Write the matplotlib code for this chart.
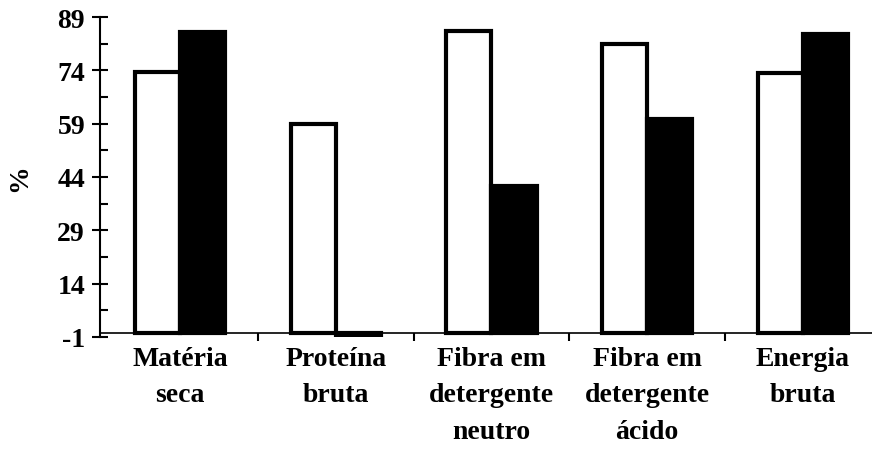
import matplotlib
matplotlib.use("Agg")
import matplotlib.pyplot as plt
import numpy as np

categories = ["Matéria\nseca", "Proteína\nbruta", "Fibra em\ndetergente\nneutro",
              "Fibra em\ndetergente\nácido", "Energia\nbruta"]
white_vals = [73.6, 58.8, 85.0, 81.4, 73.2]
black_vals = [84.7, -0.8, 41.5, 60.2, 84.2]
y_ticks = [-1, 14, 29, 44, 59, 74, 89]

plt.rcParams['font.family'] = ['Liberation Serif', 'DejaVu Serif']
plt.rcParams['font.weight'] = 'bold'
plt.rcParams['axes.labelweight'] = 'bold'
plt.rcParams['axes.unicode_minus'] = False

fig = plt.figure(figsize=(8.72, 4.56), dpi=100)
ax = fig.add_axes([0.1147, 0.2588, 0.895, 0.7017])

x = np.arange(len(categories))
w = 0.29
ax.bar(x - w / 2, white_vals, w, color='white', edgecolor='black', linewidth=3, zorder=3)
ax.bar(x + w / 2, black_vals, w, color='black', edgecolor='black', linewidth=3, zorder=3)

ax.set_xlim(-0.515, 4.5)
ax.set_ylim(-1, 89)

for s in ['top', 'right']:
    ax.spines[s].set_visible(False)
ax.spines['bottom'].set_position(('data', 0))
ax.spines['bottom'].set_linewidth(1.2)
ax.spines['left'].set_linewidth(1.5)

ax.set_yticks(y_ticks)
ax.set_yticks([v + 7.5 for v in y_ticks[:-1]], minor=True)
ax.tick_params(axis='y', which='major', direction='inout', length=11.5, width=1.5,
               labelsize=20, pad=5)
ax.tick_params(axis='y', which='minor', direction='in', length=5.8, width=1.5)

ax.set_xticks(x)
ax.set_xticklabels(categories, fontsize=20, linespacing=1.6)
ax.set_xticks(x[:-1] + 0.5, minor=True)
ax.tick_params(axis='x', which='major', length=0, pad=9)
ax.tick_params(axis='x', which='minor', direction='out', length=6, width=1.5)

ax.set_ylabel('%', fontsize=20, labelpad=18)

fig.savefig('out.png', dpi=100)
